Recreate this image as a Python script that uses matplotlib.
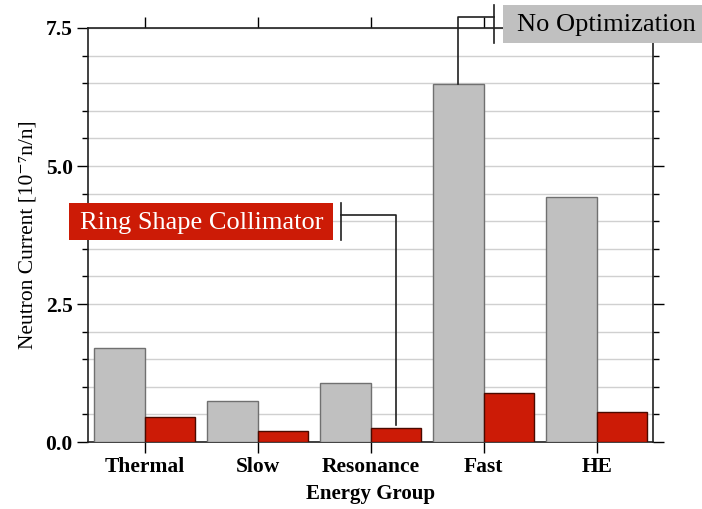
import numpy as np
import matplotlib.pyplot as plt
from matplotlib.patches import Rectangle

plt.rcParams['font.family'] = ['Liberation Serif', 'DejaVu Serif']

groups = ["Thermal", "Slow", "Resonance", "Fast", "HE"]
no_opt = [1.71, 0.74, 1.07, 6.48, 4.43]
ring = [0.45, 0.20, 0.26, 0.88, 0.54]

gray = "#c0c0c0"
red = "#cc1b06"
w = 0.45

fig = plt.figure(figsize=(7.02, 5.09), dpi=100)
ax = fig.add_axes([0.1254, 0.1316, 0.8050, 0.8134])

x = np.arange(len(groups))
ax.bar(x - w / 2, no_opt, w, color=gray, edgecolor="#707070", linewidth=1, zorder=3)
ax.bar(x + w / 2, ring, w, color=red, edgecolor="#4a0a00", linewidth=1, zorder=3)

ax.set_xlim(-0.5, 4.5)
ax.set_ylim(0, 7.5)
ax.set_yticks([0, 2.5, 5.0, 7.5])
ax.set_yticks(np.arange(0, 7.51, 0.5), minor=True)
ax.set_yticklabels(["0.0", "2.5", "5.0", "7.5"])
ax.set_xticks(x)
ax.set_xticklabels(groups)
ax.yaxis.grid(True, which="both", color="#d0d0d0", linewidth=1, zorder=0)
ax.set_axisbelow(True)

ax.tick_params(axis="both", which="major", direction="out", length=8, width=1,
               labelsize=15.5, top=True, right=True, labelright=False, pad=3)
ax.tick_params(axis="y", which="minor", direction="out", length=4, width=1,
               right=True)
for lab in ax.get_xticklabels() + ax.get_yticklabels():
    lab.set_fontweight("bold")
for sp in ax.spines.values():
    sp.set_linewidth(1.2)
    sp.set_color("#202020")

ax.set_xlabel("Energy Group", fontsize=15, fontweight="bold", labelpad=5)
ax.set_ylabel("Neutron Current [10⁻⁷n/n]", fontsize=15.5, labelpad=6)

# callout: No Optimization
fx = x[3] - w / 2
ax.plot([fx, fx, 3.093], [no_opt[3], 7.70, 7.70], color="#202020", lw=1.2, clip_on=False, zorder=5)
ax.plot([3.093, 3.093], [7.23, 7.92], color="#202020", lw=1.2, clip_on=False, zorder=5)
fig.patches.append(Rectangle((0.7165, 0.9155), 0.2835, 0.0747, transform=fig.transFigure,
                             fc=gray, ec="none", zorder=1))
fig.text(0.864, 0.951, "No Optimization", ha="center", va="center", fontsize=19, zorder=2)

# callout: Ring Shape Collimator
rx = x[2] + w / 2
ax.plot([rx, rx, 1.739], [ring[2] + 0.05, 4.11, 4.11], color="#202020", lw=1.2, clip_on=False, zorder=5)
ax.plot([1.739, 1.739], [3.66, 4.33], color="#202020", lw=1.2, clip_on=False, zorder=5)
fig.patches.append(Rectangle((0.0983, 0.5285), 0.376, 0.0727, transform=fig.transFigure,
                             fc=red, ec="none", zorder=1))
fig.text(0.2877, 0.5625, "Ring Shape Collimator", ha="center", va="center", fontsize=19,
         color="white", zorder=2)

fig.savefig("out.png", dpi=100)
